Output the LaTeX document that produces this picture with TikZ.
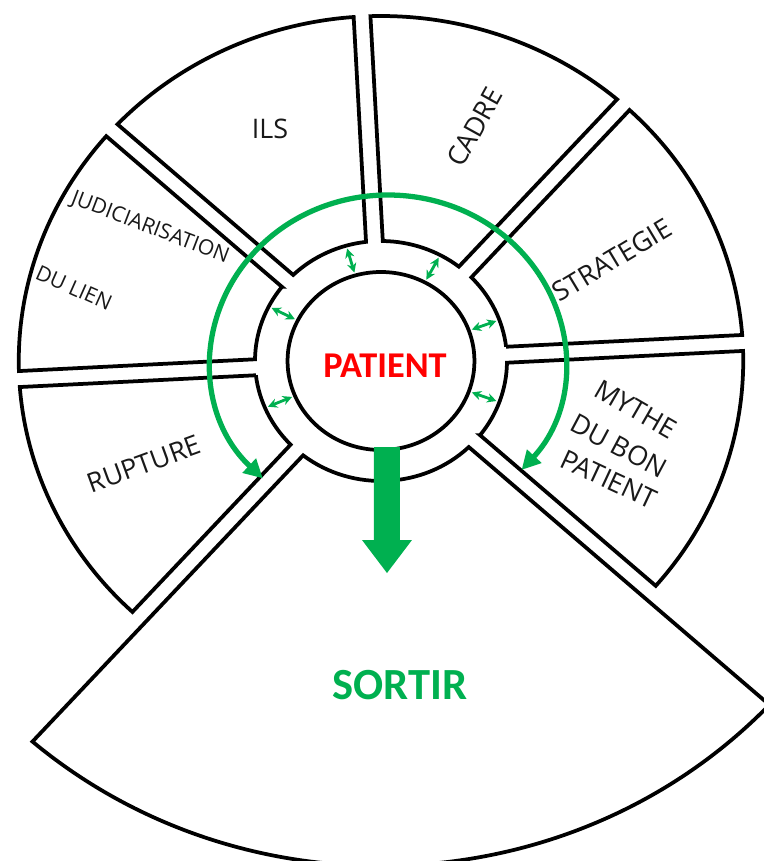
\documentclass[tikz,border=0pt]{standalone}
\usepackage{fontspec}
\setmainfont{Open Sans}
\newfontfamily\calfont{Carlito}
\usetikzlibrary{arrows.meta}
\definecolor{ggreen}{HTML}{00B050}
\definecolor{pred}{HTML}{FF0000}
\tikzset{
  segline/.style={draw=black, line width=3.2pt, fill=white, line join=miter},
  lbl/.style={font=\fontsize{23}{26}\selectfont, text=black!90, inner sep=0pt},
  smalllbl/.style={font=\fontsize{18}{21}\selectfont, text=black!90, inner sep=0pt},
  smallarr/.style={draw=ggreen, line width=2.4pt, {Stealth[length=8pt,width=8pt]}-{Stealth[length=8pt,width=8pt]}},
  bigarc/.style={draw=ggreen, line width=4.5pt, {Triangle[length=16pt,width=16pt]}-{Triangle[length=16pt,width=16pt]}},
}
\newcommand{\segm}[5]{%
  \draw[segline] ({#1+asin(#5/#3)}:#3) -- ({#1+asin(#5/#4)}:#4)
    arc[start angle={#1+asin(#5/#4)}, end angle={#2-asin(#5/#4)}, radius=#4]
    -- ({#2-asin(#5/#3)}:#3)
    arc[start angle={#2-asin(#5/#3)}, end angle={#1+asin(#5/#3)}, radius=#3] -- cycle;}
\begin{document}
\begin{tikzpicture}[x=0.03cm,y=0.03cm]
\useasboundingbox (-381,-500) rectangle (383,361);
\begin{scope}[xscale=1.05]
  \segm{3}{48}{120}{345}{8}
  \segm{48}{93}{120}{345}{8}
  \segm{93}{138}{120}{345}{8}
  \segm{138}{183}{120}{345}{8}
  \segm{183}{228}{120}{345}{8}
  \segm{228}{318}{120}{505}{8}
  \segm{318}{363}{120}{345}{8}
  \draw[line width=3.2pt, fill=white] (0,0) circle[radius=89];
  \foreach \a in {106,62,153,20,203,-20}
    \draw[smallarr] (\a:92) -- (\a:117);
\end{scope}
% labels
\node[lbl] (ils) at (-111,232) {ILS};
\node[lbl, rotate=61] (cadre) at (94,234) {CADRE};
\node[lbl, rotate=31] (strat) at (231,101) {STRATEGIE};
\node[lbl, rotate=-30] (my1) at (255,-48) {MYTHE};
\node[lbl, rotate=-28] (my2) at (238,-85) {DU BON};
\node[lbl, rotate=-25] (my3) at (228,-118) {PATIENT};
\node[lbl, rotate=20] (rup) at (-237,-103) {RUPTURE};
\node[smalllbl, rotate=-21] (jud) at (-231,133) {JUDICIARISATION};
\node[smalllbl, rotate=-24] (dul) at (-307,73) {DU LIEN};
\node[font=\calfont\bfseries\fontsize{31}{33}\selectfont, text=pred] (pat) at (4,-5) {PATIENT};
\node[font=\calfont\bfseries\fontsize{38}{40}\selectfont, text=ggreen] (sortir) at (19,-324) {SORTIR};
% green arc
\begin{scope}[shift={(7,0)}]
  \draw[bigarc] (225:177 and 166) arc[start angle=225, end angle=-41, x radius=177, y radius=166];
\end{scope}
% big arrow
\fill[ggreen] (-7,-86) -- (19,-86) -- (19,-179) -- (31,-179) -- (6,-212) -- (-19,-179) -- (-7,-179) -- cycle;
\end{tikzpicture}
\end{document}
